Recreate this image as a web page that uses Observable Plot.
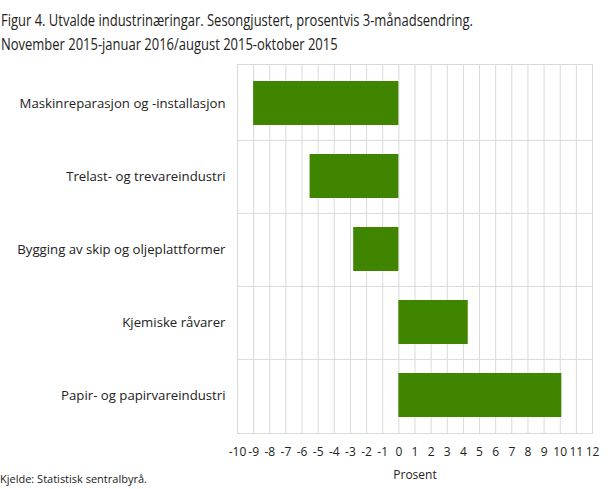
<!DOCTYPE html>
<html>
<head>
<meta charset="utf-8">
<script src="https://cdn.jsdelivr.net/npm/d3@7"></script>
<script src="https://cdn.jsdelivr.net/npm/@observablehq/plot@0.6"></script>
<style>
  html, body { margin: 0; padding: 0; background: #fff; }
  #wrap { position: relative; width: 608px; height: 489px; font-family: "Open Sans", sans-serif; color: #222; overflow: hidden; }
  #title { position: absolute; left: 1px; top: 9px; font-size: 15.5px; line-height: 23.5px; color: #222; white-space: nowrap; transform-origin: 0 0; }
  #chart { position: absolute; left: 0; top: 58px; }
  #source { position: absolute; left: 0; top: 471px; font-size: 11px; color: #222; }
</style>
</head>
<body>
<div id="wrap">
  <div id="title"><span id="t1">Figur 4. Utvalde industrinæringar. Sesongjustert, prosentvis 3-månadsendring.</span><br>November 2015-januar 2016/august 2015-oktober 2015</div>
  <div id="chart"></div>
  <div id="source">Kjelde: Statistisk sentralbyrå.</div>
</div>
<script>
const categories = [
  "Maskinreparasjon og -installasjon",
  "Trelast- og trevareindustri",
  "Bygging av skip og oljeplattformer",
  "Kjemiske råvarer",
  "Papir- og papirvareindustri"
];
const values = [-9.0, -5.5, -2.8, 4.3, 10.1];
const xTicks = d3.range(-10, 13);

const data = categories.map((c, i) => ({category: c, value: values[i]}));

// condense the title to the reference's narrow width
const t1 = document.getElementById("t1");
const w = t1.getBoundingClientRect().width;
document.getElementById("title").style.transform = `scaleX(${472 / w})`;

const height = 431;
const marginTop = 6, marginBottom = 56;
const step = (height - marginTop - marginBottom) / categories.length;

const chart = Plot.plot({
  width: 608,
  height,
  marginLeft: 237,
  marginRight: 16,
  marginTop,
  marginBottom,
  style: {fontFamily: "'Open Sans', sans-serif", fontSize: "12px", color: "#222", background: "#fff"},
  x: {
    domain: [-10, 12],
    ticks: xTicks,
    tickFormat: d => String(d),
    tickSize: 0,
    tickPadding: 14,
    label: "Prosent",
    labelAnchor: "center",
    labelArrow: "none",
    labelOffset: 45
  },
  y: {
    domain: categories,
    paddingInner: 0.4,
    paddingOuter: 0.2,
    tickSize: 0,
    tickPadding: 12,
    label: null
  },
  marks: [
    Plot.ruleX(xTicks, {stroke: "#d9d9d9", strokeWidth: 1}),
    Plot.ruleY(categories.slice(0, -1), {dy: step / 2, stroke: "#d9d9d9", strokeWidth: 1}),
    Plot.frame({stroke: "#d9d9d9", strokeWidth: 1}),
    Plot.barX(data, {x: "value", y: "category", fill: "#3f8500"}),
    Plot.axisY({tickSize: 0, tickPadding: 12, fontSize: 13.2, label: null})
  ]
});
document.getElementById("chart").appendChild(chart);
</script>
</body>
</html>
